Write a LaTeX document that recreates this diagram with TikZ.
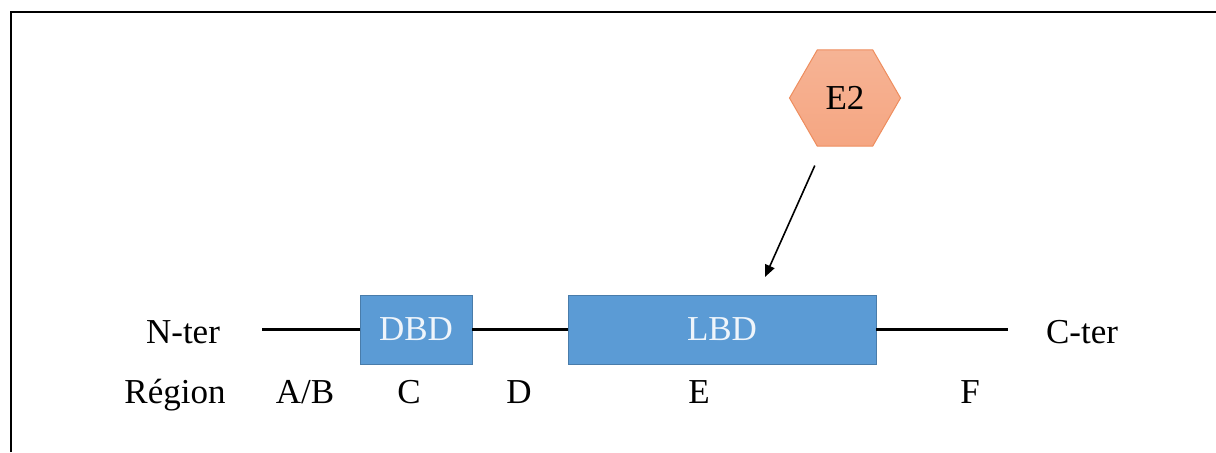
\documentclass[tikz,border=0pt]{standalone}
\usepackage{fontspec}
\setmainfont{Liberation Serif}
\usetikzlibrary{shapes.geometric,arrows.meta}
\definecolor{domblue}{HTML}{5B9BD5}
\definecolor{hexfill}{HTML}{F5A682}
\definecolor{hexdraw}{HTML}{EE8D5E}

\begin{document}
\begin{tikzpicture}[x=0.5pt,y=-0.5pt,
    domain box/.style={rectangle, fill=domblue, draw=domblue!80!black, line width=0.4pt,
      text=white!90!domblue, inner sep=0pt, minimum height=34.5pt},
    region/.style={anchor=base}]
  \tikzstyle{every node}=[font=\fontsize{17.5}{20}\selectfont]
  \useasboundingbox (0,0) rectangle (1216,452);

  % frame (runs off the page at right and bottom)
  \draw[line width=1.2pt] (11,452) -- (11,12) -- (1216,12);

  \node[domain box, minimum width=56pt] (dbd) at (416,329.5) {DBD};
  \node[domain box, minimum width=154pt] (lbd) at (722,329.5) {LBD};
  \node[region] (nter) at (183,343) {N-ter};
  \node[region] (cter) at (1082,343) {C-ter};
  \coordinate (nend) at (262,329.5);
  \coordinate (cend) at (1008,329.5);

  \draw[line width=1.3pt] (nend) -- (dbd.west);
  \draw[line width=1.3pt] (dbd.east) -- (lbd.west);
  \draw[line width=1.3pt] (lbd.east) -- (cend);

  % regions
  \node[region] (reg) at (175,403) {Région};
  \node[region] (ab) at (305,403) {A/B};
  \node[region] (c) at (409,403) {C};
  \node[region] (d) at (519,403) {D};
  \node[region] (e) at (699,403) {E};
  \node[region] (f) at (970,403) {F};

  % ligand
  \node[regular polygon, regular polygon sides=6, minimum size=55.5pt, inner sep=0pt,
        top color=hexfill!85!white, bottom color=hexfill, draw=hexdraw, line width=0.5pt] (e2) at (845,98) {E2};
  \coordinate (site) at (765,277);
  \draw[-{Triangle[length=6pt,width=5pt]}, line width=0.8pt, shorten <=37pt] (e2.center) -- (site);
\end{tikzpicture}
\end{document}
